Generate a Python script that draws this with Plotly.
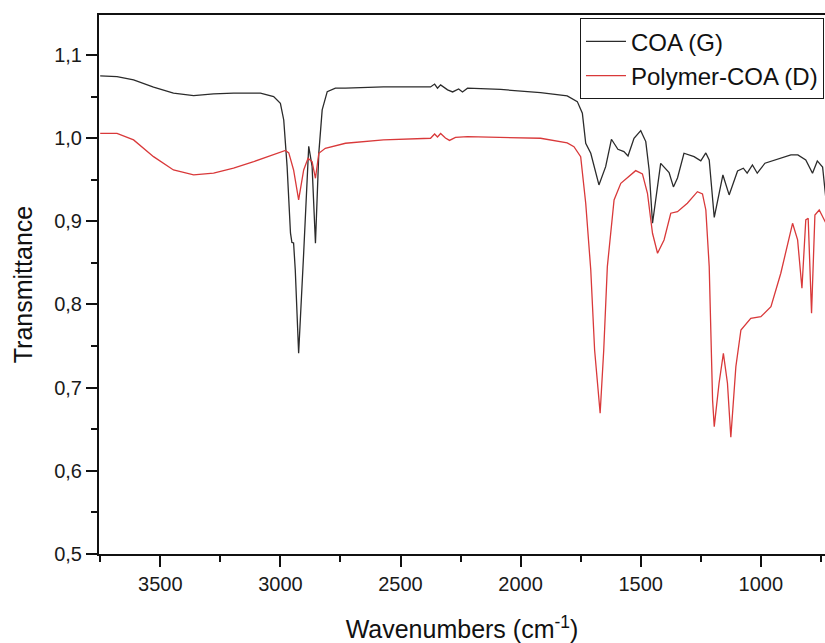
import plotly.graph_objects as go

# COA (G) spectrum: wavenumber (cm-1) and transmittance
coa_wn = [3750, 3680, 3611, 3528, 3445, 3361, 3278, 3195, 3083, 3028, 3000, 2986, 2972, 2958,
          2952, 2945, 2938, 2924, 2903, 2882, 2868, 2854, 2840, 2826, 2805, 2771, 2729, 2571,
          2375, 2358, 2346, 2333, 2304, 2283, 2258, 2242, 2221, 2083, 1917, 1806, 1764, 1743,
          1729, 1708, 1674, 1646, 1622, 1595, 1570, 1553, 1528, 1500, 1479, 1465, 1451, 1417,
          1382, 1364, 1347, 1320, 1278, 1250, 1229, 1215, 1194, 1158, 1132, 1097, 1073, 1057,
          1035, 1015, 983, 938, 875, 846, 813, 785, 765, 743, 729]
coa_t = [1.0747, 1.0739, 1.0699, 1.0612, 1.0540, 1.0511, 1.0531, 1.0540, 1.0540, 1.0499, 1.0419,
         1.0218, 0.9657, 0.8860, 0.8745, 0.8739, 0.8415, 0.7413, 0.8619, 0.9902, 0.9661, 0.8736,
         0.9822, 1.0339, 1.0559, 1.0600, 1.0600, 1.0615, 1.0615, 1.0650, 1.0600, 1.0640, 1.0580,
         1.0555, 1.0590, 1.0555, 1.0600, 1.0585, 1.0547, 1.0507, 1.0439, 1.0299, 0.9938, 0.9818,
         0.9437, 0.9657, 0.9986, 0.9866, 0.9837, 0.9786, 0.9998, 1.0090, 0.9958, 0.9617, 0.8976,
         0.9696, 0.9587, 0.9413, 0.9521, 0.9818, 0.9777, 0.9726, 0.9822, 0.9737, 0.9046, 0.9557,
         0.9317, 0.9605, 0.9638, 0.9578, 0.9677, 0.9578, 0.9698, 0.9737, 0.9798, 0.9798, 0.9737,
         0.9578, 0.9726, 0.9653, 0.9261]

# Polymer-COA (D) spectrum
poly_wn = [3750, 3680, 3611, 3528, 3445, 3361, 3278, 3195, 3111, 3028, 2979, 2965, 2945, 2924,
           2903, 2885, 2868, 2854, 2840, 2813, 2729, 2571, 2375, 2358, 2346, 2333, 2313, 2296,
           2271, 2221, 2083, 1917, 1806, 1778, 1750, 1729, 1708, 1692, 1669, 1654, 1639, 1611,
           1583, 1549, 1521, 1493, 1472, 1451, 1430, 1403, 1375, 1347, 1306, 1264, 1243, 1229,
           1215, 1201, 1194, 1174, 1156, 1139, 1125, 1104, 1083, 1042, 1000, 958, 917, 868, 847,
           829, 813, 803, 789, 775, 757, 729]
poly_t = [1.0058, 1.0058, 0.9978, 0.9777, 0.9617, 0.9557, 0.9578, 0.9638, 0.9717, 0.9798, 0.9852,
          0.9822, 0.9617, 0.9257, 0.9617, 0.9758, 0.9717, 0.9517, 0.9818, 0.9878, 0.9938, 0.9978,
          0.9998, 1.0050, 1.0014, 1.0056, 1.0002, 0.9972, 1.0008, 1.0018, 1.0008, 0.9998, 0.9942,
          0.9897, 0.9777, 0.9217, 0.8415, 0.7453, 0.6692, 0.7453, 0.8455, 0.9257, 0.9457, 0.9537,
          0.9609, 0.9569, 0.9337, 0.8856, 0.8616, 0.8776, 0.9097, 0.9116, 0.9217, 0.9356, 0.9329,
          0.9136, 0.8455, 0.6852, 0.6531, 0.7053, 0.7413, 0.7053, 0.6403, 0.7252, 0.7693, 0.7834,
          0.7853, 0.7974, 0.8375, 0.8976, 0.8776, 0.8195, 0.9016, 0.9036, 0.7894, 0.9076, 0.9136,
          0.8976]

series_names = ["COA (G)", "Polymer-COA (D)"]
series_colors = ["#2b2b2b", "#d9393a"]

FONT = "Arial, 'Liberation Sans', Helvetica, sans-serif"

fig = go.Figure()
fig.add_trace(go.Scatter(x=coa_wn, y=coa_t, mode="lines", name=series_names[0],
                         line=dict(color=series_colors[0], width=1.3)))
fig.add_trace(go.Scatter(x=poly_wn, y=poly_t, mode="lines", name=series_names[1],
                         line=dict(color=series_colors[1], width=1.3)))

fig.update_layout(
    width=825, height=643,
    margin=dict(l=99, r=0, t=15, b=89),
    paper_bgcolor="white", plot_bgcolor="white",
    separators=",.",
    font=dict(family=FONT, color="#1a1a1a"),
    showlegend=True,
    legend=dict(
        x=0.9986, y=0.994, xanchor="right", yanchor="top",
        bgcolor="white", bordercolor="#1a1a1a", borderwidth=1,
        font=dict(size=24, family=FONT, color="#111"),
        tracegroupgap=0, itemwidth=40,
    ),
    xaxis=dict(
        range=[3755, 733], showgrid=False, zeroline=False,
        showline=True, linecolor="#111", linewidth=2, mirror=True,
        ticks="outside", ticklen=11, tickwidth=1.5, tickcolor="#111",
        tick0=0, dtick=500, tickformat="d",
        tickfont=dict(size=20, family=FONT, color="#1a1a1a"),
        minor=dict(ticks="outside", ticklen=6, tickwidth=1.5, tickcolor="#111", dtick=250, tick0=0),
        title=dict(text="Wavenumbers (cm<sup>-1</sup>)", font=dict(size=25, family=FONT, color="#111"),
                   standoff=27),
    ),
    yaxis=dict(
        range=[0.5, 1.148], showgrid=False, zeroline=False,
        showline=True, linecolor="#111", linewidth=2, mirror=False,
        ticks="outside", ticklen=11, tickwidth=1.5, tickcolor="#111",
        tick0=0.5, dtick=0.1, tickformat=".1f",
        tickfont=dict(size=20, family=FONT, color="#1a1a1a"),
        minor=dict(ticks="outside", ticklen=6, tickwidth=1.5, tickcolor="#111", dtick=0.05, tick0=0.5),
        title=dict(text="Transmittance", font=dict(size=25, family=FONT, color="#111"), standoff=14),
    ),
)

fig.write_html(
    "out.html",
    config={"displayModeBar": False},
    post_script="document.body.style.margin='0';document.body.style.padding='0';"
                "document.documentElement.style.overflow='hidden';",
)
